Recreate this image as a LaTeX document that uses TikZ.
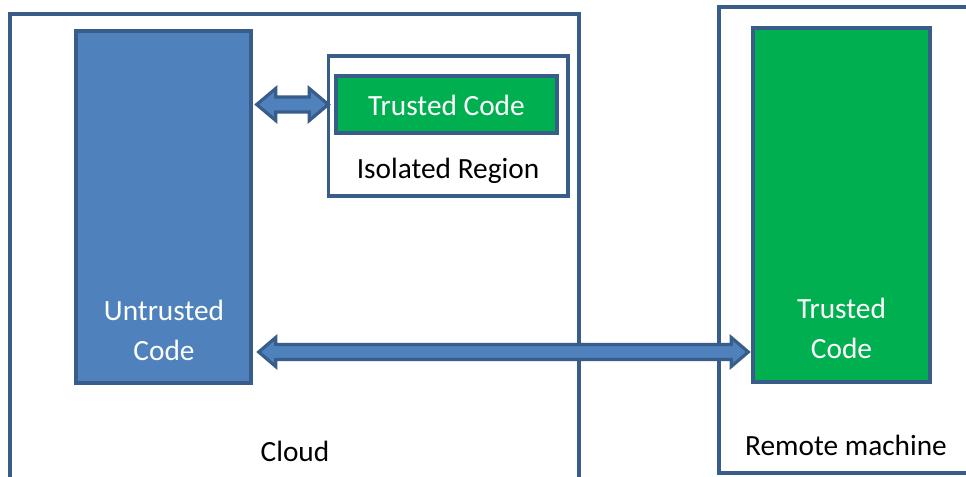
\documentclass[tikz,border=0pt]{standalone}
\usepackage{fontspec}
\setmainfont{Carlito}
\usetikzlibrary{calc,fit}

\definecolor{edgeblue}{HTML}{385D8A}
\definecolor{boxblue}{HTML}{4F81BD}
\definecolor{boxgreen}{HTML}{00B050}

\tikzset{
  frame/.style={draw=edgeblue, line width=3pt, fill=white, inner sep=0pt},
  codebox/.style={draw=edgeblue, line width=2.6pt, inner sep=0pt},
  untrusted/.style={codebox, fill=boxblue},
  trusted/.style={codebox, fill=boxgreen},
  label/.style={font=\fontsize{22pt}{30pt}\selectfont, align=center, inner sep=0pt},
  whitelabel/.style={label, text=white},
  blockarrow/.style={draw=edgeblue, fill=boxblue, line width=2.4pt, line join=miter},
}

% double-headed block arrow from #1 to #2 (horizontal);
% #3 = half shaft width, #4 = half head width, #5 = head length
\newcommand{\blockarrowpath}[5]{%
  \draw[blockarrow] (#1) -- ($(#1)+(#5,-#4)$) -- ($(#1)+(#5,-#3)$)
    -- ($(#2)+(-#5,-#3)$) -- ($(#2)+(-#5,-#4)$) -- (#2)
    -- ($(#2)+(-#5,#4)$) -- ($(#2)+(-#5,#3)$)
    -- ($(#1)+(#5,#3)$) -- ($(#1)+(#5,#4)$) -- cycle;}

\begin{document}
\begin{tikzpicture}[x=0.75pt, y=-0.75pt]
  \useasboundingbox (0,0) rectangle (966,477);
  \clip (0,0) rectangle (966,477);

  % outer frames
  \node[frame, fit={(10,14) (579,520)}] (cloud) {};
  \node[frame, fit={(719,7) (1010,473)}] (remote) {};

  % isolated region and its trusted code
  \node[frame, line width=2.6pt, fit={(328.5,56) (568,196)}] (iso) {};
  \node[trusted, fit={(336,76) (557,133)}] (tcode) {};

  % code blocks
  \node[untrusted, fit={(76,31) (251,383)}] (ucode) {};
  \node[trusted, fit={(753,28) (930,382)}] (rcode) {};

  % texts
  \node[whitelabel] (tcodetxt) at ($(tcode.center)+(0,1)$) {Trusted Code};
  \node[label] (isotxt) at (448,171) {Isolated Region};
  \node[whitelabel] (ucodetxt) at (164,330) {Untrusted\\Code};
  \node[whitelabel] (rcodetxt) at (841.5,328) {Trusted\\Code};
  \node[label] (cloudtxt) at (295,451) {Cloud};
  \node[label] (remotetxt) at (846,445) {Remote machine};

  % connectors
  \coordinate (a1) at ($(ucode.east |- tcode.west)+(4,0)$);
  \coordinate (b1) at ($(tcode.west)+(-6,0)$);
  \blockarrowpath{a1}{b1}{7.5}{16}{19}

  \coordinate (a2) at ($(ucode.east |- 0,352)+(6,0)$);
  \coordinate (b2) at ($(rcode.west |- 0,352)+(-3,0)$);
  \blockarrowpath{a2}{b2}{7.5}{14.5}{17}
\end{tikzpicture}
\end{document}
